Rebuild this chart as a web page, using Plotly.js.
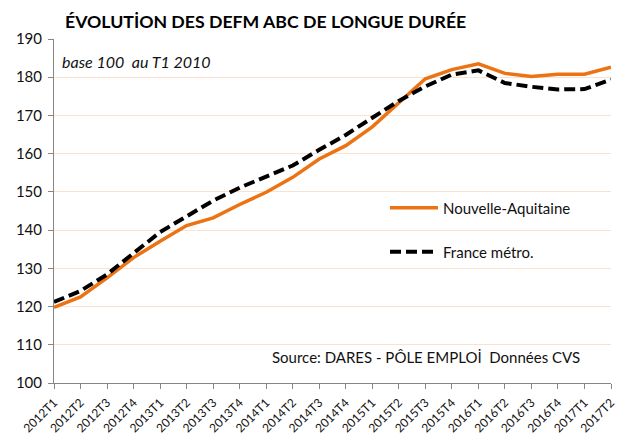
<!DOCTYPE html>
<html>
<head>
<meta charset="utf-8">
<script src="https://cdn.plot.ly/plotly-3.0.1.min.js"></script>
<style>html,body{margin:0;padding:0;background:#fff;}#chart{width:617px;height:436px;}</style>
</head>
<body>
<div id="chart"></div>
<script>
const categories = ['2012T1','2012T2','2012T3','2012T4','2013T1','2013T2','2013T3','2013T4','2014T1','2014T2','2014T3','2014T4','2015T1','2015T2','2015T3','2015T4','2016T1','2016T2','2016T3','2016T4','2017T1','2017T2'];
const nouvelleAquitaine = [119.8,122.5,127.5,132.8,137.1,141.2,143.2,146.7,149.9,153.8,158.6,162.1,167.0,173.4,179.6,182.0,183.5,181.0,180.2,180.8,180.8,182.6];
const franceMetro = [121.2,124.1,128.4,134.0,139.5,143.6,147.7,151.1,154.0,156.9,161.0,164.9,169.4,173.8,177.6,180.7,181.8,178.5,177.5,176.8,176.9,179.4];
const seriesNames = ['Nouvelle-Aquitaine','France métro.'];
const yTicks = [100,110,120,130,140,150,160,170,180,190];

const FONT = 'Lato, "Open Sans", sans-serif';
const traces = [
  {x: categories, y: nouvelleAquitaine, name: seriesNames[0], type: 'scatter', mode: 'lines',
   line: {color: '#EC7314', width: 3.5}, legend: 'legend'},
  {x: categories, y: franceMetro, name: seriesNames[1], type: 'scatter', mode: 'lines',
   line: {color: '#000000', width: 4, dash: '11px,5px'}, legend: 'legend2'}
];
const legendCommon = {xanchor: 'left', yanchor: 'middle', bgcolor: 'rgba(0,0,0,0)',
  font: {family: FONT, size: 15, color: '#111'}, itemwidth: 48};
const layout = {
  width: 617, height: 436,
  margin: {l: 54, r: 6, t: 39, b: 53},
  paper_bgcolor: '#fff', plot_bgcolor: '#fff',
  font: {family: FONT, color: '#111'},
  title: {text: '<b>ÉVOLUTİON DES DEFM ABC DE LONGUE DURÉE</b>', xref: 'container', yref: 'container',
    x: 65/617, xanchor: 'left', y: 1 - 22/436, yanchor: 'middle', font: {family: FONT, size: 17.7, color: '#000'}},
  xaxis: {type: 'category', range: [0, categories.length - 1], tickangle: -45,
    ticks: 'outside', ticklen: 5, tickcolor: '#868686', showline: true, linecolor: '#868686', linewidth: 1,
    showgrid: false, ticklabelstandoff: 2, tickfont: {family: FONT, size: 12, color: '#111'}, fixedrange: true},
  yaxis: {range: [100, 190], tickvals: yTicks, ticks: 'outside', ticklen: 5, tickcolor: '#868686',
    showline: true, linecolor: '#868686', linewidth: 1, gridcolor: '#FCE1CE', gridwidth: 1, zeroline: false,
    ticklabelstandoff: 3, tickfont: {family: FONT, size: 15, color: '#111'}, fixedrange: true},
  showlegend: true,
  legend: Object.assign({x: (385-54)/557, y: (383-208)/344}, legendCommon),
  legend2: Object.assign({x: (385-54)/557, y: (383-252)/344}, legendCommon),
  shapes: [
    {type: 'rect', xref: 'paper', yref: 'paper', x0: 5/557, x1: 264/557, y0: (383-81)/344, y1: (383-46)/344,
     fillcolor: '#fff', line: {width: 0}, layer: 'below'}
  ],
  annotations: [
    {text: '<i>base 100  au T1 2010</i>', xref: 'paper', yref: 'paper', x: 6/557, y: (383-61)/344,
     xanchor: 'left', yanchor: 'middle', showarrow: false, font: {family: FONT, size: 16, color: '#111'}},
    {text: 'Source: DARES - PÔLE EMPLOİ  Données CVS', xref: 'paper', yref: 'paper', x: (582-54)/557, y: (383-357)/344,
     xanchor: 'right', yanchor: 'middle', showarrow: false, font: {family: FONT, size: 15, color: '#111'}}
  ]
};
Plotly.newPlot('chart', traces, layout, {displayModeBar: false, staticPlot: true});
</script>
</body>
</html>
